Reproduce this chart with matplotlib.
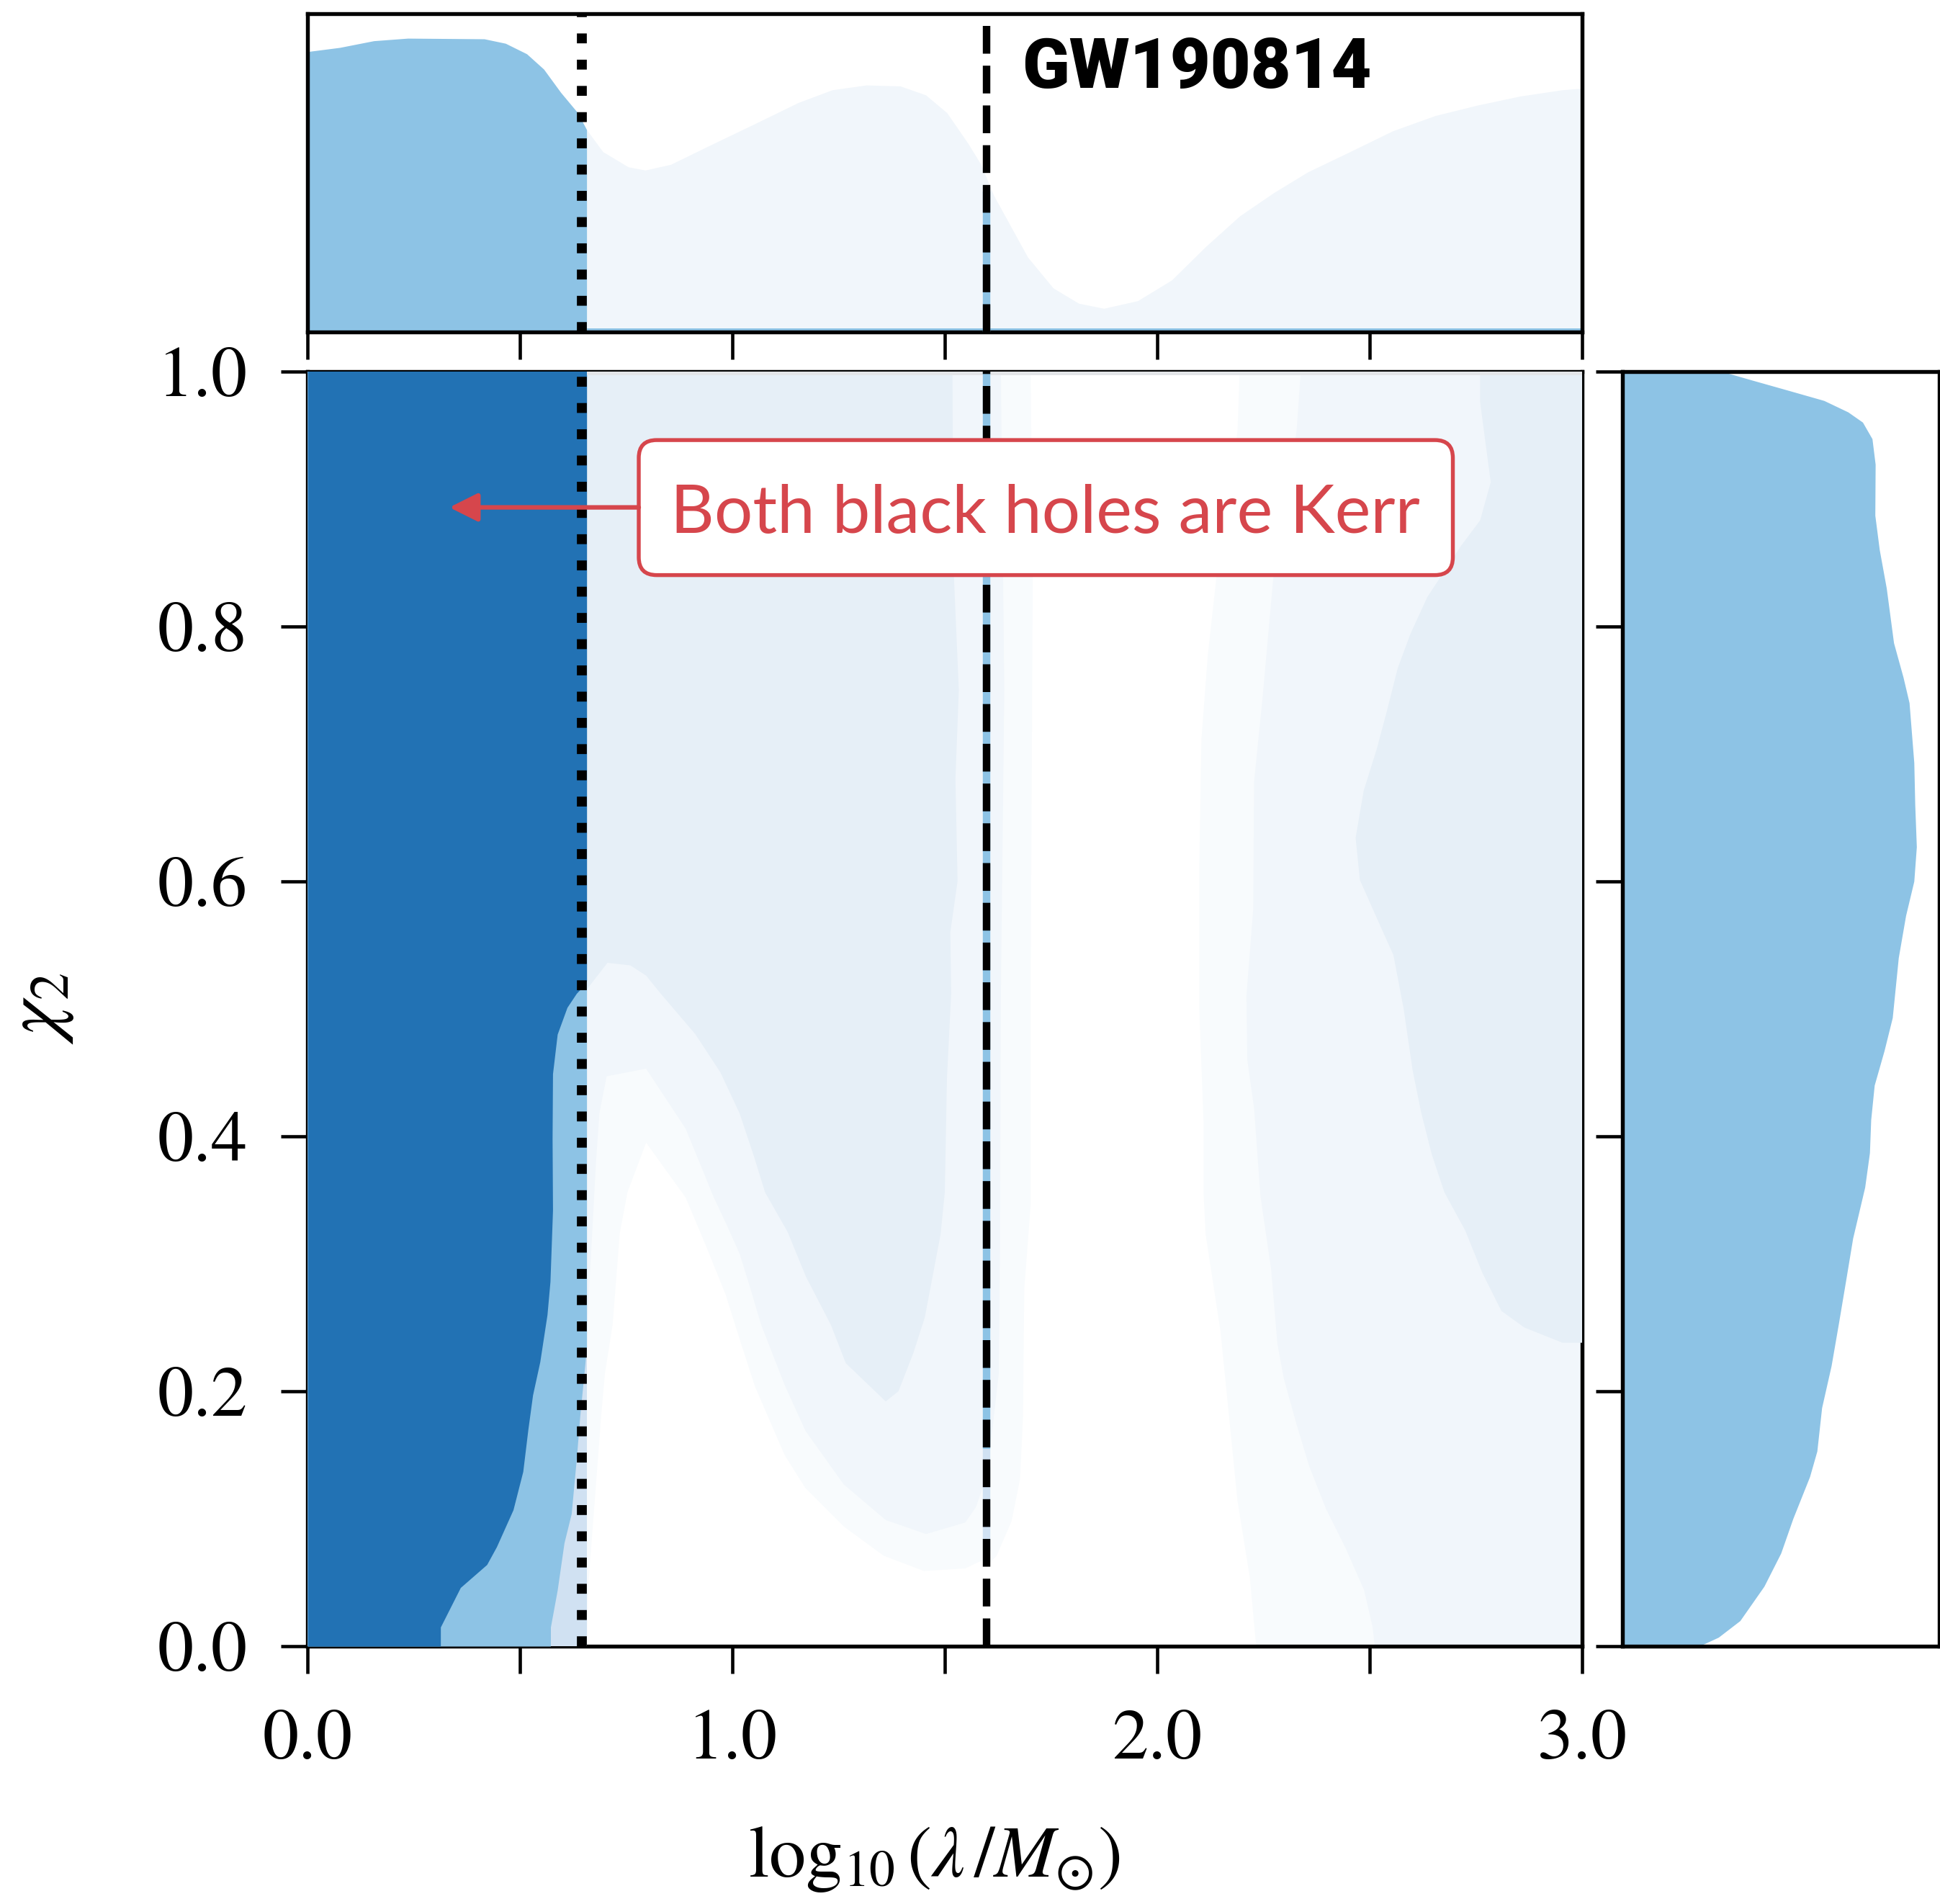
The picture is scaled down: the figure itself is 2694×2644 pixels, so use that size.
import numpy as np
import matplotlib
matplotlib.use("Agg")
import matplotlib.pyplot as plt
from matplotlib.patches import FancyBboxPatch

# ---------------- data ----------------
# cut-offs (log10 lambda / Msun)
kerr_cut = 0.645
second_cut = 1.598
region_edge = 0.657

# darkest credible region (right edge as function of chi2)
dark_edge_y = [0.0, 0.015, 0.046, 0.064, 0.078, 0.107, 0.137, 0.170, 0.197, 0.223, 0.260,
               0.286, 0.342, 0.398, 0.449, 0.480, 0.501, 0.512, 0.518, 0.522, 1.0]
dark_edge_x = [0.313, 0.313, 0.360, 0.422, 0.445, 0.484, 0.507, 0.519, 0.530, 0.547, 0.564,
               0.571, 0.577, 0.576, 0.577, 0.588, 0.611, 0.633, 0.650, 0.657, 0.657]
# medium region
mid_edge_y = [0.0, 0.015, 0.044, 0.081, 0.104, 0.147, 0.180, 0.214, 0.235, 1.0]
mid_edge_x = [0.572, 0.572, 0.588, 0.604, 0.621, 0.633, 0.641, 0.651, 0.657, 0.657]

# level-1 (faint blue) region, left part: lower edge then right edge
l1a_x = [0.657, 0.706, 0.760, 0.797, 0.831, 0.913, 0.972, 1.017, 1.051, 1.077, 1.130, 1.173,
         1.232, 1.267, 1.361, 1.391, 1.426, 1.453, 1.490, 1.500, 1.505, 1.515,
         1.513, 1.530, 1.525, 1.533, 1.520, 1.518]
l1a_y = [0.515, 0.536, 0.534, 0.526, 0.512, 0.480, 0.450, 0.418, 0.384, 0.356, 0.325, 0.290,
         0.252, 0.222, 0.192, 0.200, 0.230, 0.258, 0.323, 0.356, 0.445, 0.512,
         0.560, 0.600, 0.680, 0.750, 0.850, 1.000]
# level-1 region, right part (left edge from top to bottom)
l1b_x = [2.760, 2.760, 2.773, 2.785, 2.760, 2.715, 2.636, 2.596, 2.566, 2.541, 2.517, 2.486,
         2.467, 2.477, 2.517, 2.556, 2.580, 2.601, 2.621, 2.646, 2.676, 2.725, 2.765, 2.810,
         2.864, 2.954, 3.000]
l1b_y = [1.000, 0.976, 0.943, 0.913, 0.883, 0.863, 0.823, 0.794, 0.767, 0.734, 0.704, 0.671,
         0.634, 0.601, 0.571, 0.542, 0.500, 0.452, 0.419, 0.386, 0.356, 0.326, 0.293, 0.263,
         0.250, 0.238, 0.238]

# level-2 region, left part: lower edge (dotted -> dashed) then right strip upwards
l2a_x = [0.657, 0.659, 0.664, 0.670, 0.679, 0.687, 0.704, 0.797, 0.890, 0.927, 0.955, 0.986,
         1.017, 1.043, 1.068, 1.123, 1.172, 1.262, 1.361, 1.456, 1.548, 1.573, 1.590, 1.600,
         1.612, 1.627, 1.630, 1.632, 1.640, 1.632]
l2a_y = [0.240, 0.252, 0.286, 0.324, 0.380, 0.418, 0.447, 0.453, 0.406, 0.376, 0.353, 0.331,
         0.308, 0.280, 0.252, 0.205, 0.169, 0.127, 0.099, 0.088, 0.097, 0.109, 0.125, 0.140,
         0.170, 0.214, 0.313, 0.512, 0.750, 1.000]
# level-2 region, right part (left edge from top to bottom)
l2b_x = [2.338, 2.328, 2.273, 2.248, 2.228, 2.226, 2.210, 2.212, 2.228, 2.243, 2.268, 2.283,
         2.298, 2.328, 2.358, 2.397, 2.442, 2.487, 2.507, 2.512]
l2b_y = [1.000, 0.953, 0.837, 0.744, 0.678, 0.578, 0.510, 0.460, 0.422, 0.353, 0.296, 0.237,
         0.210, 0.174, 0.141, 0.108, 0.078, 0.044, 0.015, 0.000]

# white (lowest density) hole: upper/left edge then right edge downwards
white_x = [0.658, 0.661, 0.676, 0.691, 0.700, 0.718, 0.735, 0.753, 0.797, 0.890, 0.938, 0.984,
           1.018, 1.053, 1.123, 1.172, 1.262, 1.356, 1.451, 1.548, 1.592, 1.602, 1.622, 1.657,
           1.677, 1.684, 1.687, 1.702, 1.702, 1.707, 1.702,
           2.194, 2.189, 2.139, 2.119, 2.104, 2.099, 2.099, 2.109, 2.109, 2.114, 2.149, 2.174,
           2.189, 2.218, 2.233]
white_y = [0.000, 0.048, 0.114, 0.180, 0.214, 0.252, 0.324, 0.356, 0.395, 0.352, 0.314, 0.276,
           0.240, 0.204, 0.150, 0.124, 0.094, 0.071, 0.059, 0.061, 0.068, 0.064, 0.071, 0.098,
           0.131, 0.180, 0.280, 0.346, 0.512, 0.843, 1.000,
           1.000, 0.953, 0.837, 0.777, 0.711, 0.611, 0.500, 0.412, 0.356, 0.323, 0.247, 0.164,
           0.114, 0.054, 0.000]

# top marginal (log10 lambda)
top_x = [0.0, 0.006, 0.076, 0.156, 0.236, 0.416, 0.466, 0.516, 0.556, 0.596, 0.636, 0.657,
         0.695, 0.755, 0.795, 0.855, 0.955, 1.055, 1.155, 1.235, 1.315, 1.395, 1.455, 1.505,
         1.555, 1.585, 1.615, 1.655, 1.695, 1.755, 1.815, 1.874, 1.954, 2.034, 2.114, 2.194,
         2.274, 2.354, 2.454, 2.554, 2.654, 2.754, 2.853, 2.953, 3.0]
top_dens = [0.878, 0.881, 0.893, 0.914, 0.922, 0.920, 0.906, 0.873, 0.825, 0.752, 0.688, 0.635,
            0.566, 0.518, 0.508, 0.526, 0.591, 0.655, 0.720, 0.760, 0.775, 0.772, 0.744, 0.688,
            0.591, 0.526, 0.429, 0.332, 0.235, 0.138, 0.090, 0.074, 0.098, 0.163, 0.268, 0.364,
            0.437, 0.502, 0.566, 0.631, 0.679, 0.712, 0.740, 0.760, 0.765]

# right marginal (chi2)
right_y = [1.0, 0.993, 0.985, 0.977, 0.968, 0.960, 0.947, 0.927, 0.887, 0.860, 0.830, 0.787,
           0.760, 0.740, 0.693, 0.660, 0.627, 0.600, 0.573, 0.540, 0.493, 0.467, 0.440, 0.413,
           0.387, 0.360, 0.320, 0.287, 0.253, 0.220, 0.187, 0.153, 0.133, 0.100, 0.073, 0.047,
           0.020, 0.007, 0.0]
right_dens = [0.311, 0.409, 0.523, 0.636, 0.712, 0.758, 0.788, 0.798, 0.797, 0.811, 0.833, 0.856,
              0.886, 0.905, 0.920, 0.923, 0.928, 0.920, 0.894, 0.871, 0.852, 0.826, 0.795, 0.784,
              0.780, 0.765, 0.727, 0.705, 0.682, 0.659, 0.629, 0.614, 0.591, 0.538, 0.500, 0.447,
              0.371, 0.303, 0.242]

x_ticks = [0.0, 0.5, 1.0, 1.5, 2.0, 2.5, 3.0]
x_ticklabels = ["0.0", "", "1.0", "", "2.0", "", "3.0"]
y_ticks = [0.0, 0.2, 0.4, 0.6, 0.8, 1.0]
y_ticklabels = ["0.0", "0.2", "0.4", "0.6", "0.8", "1.0"]

event_name = "GW190814"
annotation_text = "Both black holes are Kerr"

# ---------------- style ----------------
C_DARK = "#2272b4"
C_MID = "#8dc3e5"
C_LIGHT = "#d0e1f2"
C_L1 = "#e6eff7"
C_L2 = "#f1f6fb"
C_L3 = "#f8fbfd"
C_RED = "#d6464c"

plt.rcParams["font.family"] = ["STIXGeneral", "DejaVu Sans"]
plt.rcParams["mathtext.fontset"] = "stix"
plt.rcParams["axes.linewidth"] = 1.3

W, H = 2695, 2644
fig = plt.figure(figsize=(W / 300, H / 300), dpi=300)

L, R = 427 / W, 2197 / W
ax = fig.add_axes([L, 1 - 2286 / H, R - L, (2286 - 515.5) / H])
axt = fig.add_axes([L, 1 - 461 / H, R - L, (461 - 18.6) / H])
axr = fig.add_axes([2253 / W, 1 - 2286 / H, (2693 - 2253) / W, (2286 - 515.5) / H])

# ---------------- main panel ----------------
ax.set_xlim(0, 3)
ax.set_ylim(0, 1)
ax.set_facecolor(C_L3)

ax.fill(white_x + [white_x[0]], white_y + [white_y[0]], color="white", lw=0, zorder=1)
ax.fill(l2a_x + [l2a_x[-1], region_edge], l2a_y + [1.0, 1.0], color=C_L2, lw=0, zorder=2)
ax.fill(l2b_x + [3.0, 3.0], l2b_y + [0.0, 1.0], color=C_L2, lw=0, zorder=2)
ax.fill(l1a_x + [region_edge], l1a_y + [1.0], color=C_L1, lw=0, zorder=3)
ax.fill(l1b_x + [3.0], l1b_y + [1.0], color=C_L1, lw=0, zorder=3)
ax.fill_betweenx([0, 1], 0, region_edge, color=C_LIGHT, lw=0, zorder=4)
ax.fill_betweenx(mid_edge_y, 0, mid_edge_x, color=C_MID, lw=0, zorder=5)
ax.fill_betweenx(dark_edge_y, 0, dark_edge_x, color=C_DARK, lw=0, zorder=6)
ax.axhspan(0.997, 1.0, xmin=region_edge / 3, xmax=1, color="#e3e5e8", lw=0, zorder=6)

# coloured trace under the dashed line
ax.vlines(second_cut, 0.155, 1.0, color=C_MID, lw=2.5, zorder=7)
ax.vlines(second_cut, 0.075, 0.155, color=C_LIGHT, lw=2.5, zorder=7)

ax.axvline(kerr_cut, color="black", ls=":", lw=3.3, zorder=8)
ax.axvline(second_cut, color="black", ls="--", lw=2.5, zorder=8)

ax.set_xticks(x_ticks)
ax.set_xticklabels(x_ticklabels)
ax.set_yticks(y_ticks)
ax.set_yticklabels(y_ticklabels)
ax.tick_params(axis="x", direction="out", length=9, width=1.1, pad=12, labelsize=24)
ax.tick_params(axis="y", direction="out", length=9, width=1.1, pad=11, labelsize=24)
ax.set_xlabel(r"$\log_{10}(\lambda\,/M_{\odot})$", fontsize=24.5)
ax.set_ylabel(r"$\chi_2$", fontsize=26)
ax.xaxis.set_label_coords(0.492, -0.140)
ax.yaxis.set_label_coords(-0.182, 0.5)

# annotation box
box = FancyBboxPatch((0.2599, 0.8401), 0.8986 - 0.2599, 0.9460 - 0.8401,
                     boxstyle="round,pad=0,rounding_size=0.014", transform=ax.transAxes,
                     fc="white", ec=C_RED, lw=1.3, zorder=10)
ax.add_patch(box)
ax.text(0.579, 0.8731, annotation_text, transform=ax.transAxes, ha="center", va="baseline",
        color=C_RED, fontsize=22.6, family=["Lato", "DejaVu Sans"], zorder=11)
ax.annotate("", xy=(0.1113, 0.8932), xytext=(0.2599, 0.8932),
            xycoords="axes fraction", textcoords="axes fraction",
            arrowprops=dict(arrowstyle="-|>,head_length=0.4,head_width=0.2", color=C_RED,
                            lw=1.5, shrinkA=0, shrinkB=0, mutation_scale=20), zorder=11)

# ---------------- top marginal ----------------
tx = np.array(top_x)
ty = np.array(top_dens)
axt.set_xlim(0, 3)
axt.set_ylim(0, 1)
axt.fill_between(tx, 0, ty, where=tx >= region_edge, color=C_L2, lw=0, zorder=1)
axt.fill_between(tx, 0, ty, where=tx <= region_edge, color=C_MID, lw=0, zorder=2)
axt.axhspan(0, 0.012, xmin=region_edge / 3, xmax=1, color=C_MID, lw=0, zorder=2)
axt.vlines(second_cut, 0, 0.44, color=C_MID, lw=2.5, zorder=3)
axt.axvline(kerr_cut, color="black", ls=":", lw=3.3, zorder=4)
axt.axvline(second_cut, color="black", ls="--", lw=2.5, zorder=4)
axt.set_xticks(x_ticks)
axt.set_xticklabels([])
axt.set_yticks([])
axt.tick_params(axis="x", direction="out", length=9, width=1.1)
axt.text(1.681, 0.826, event_name, ha="left", va="center", fontsize=23.2, fontweight="black",
         family=["Roboto", "DejaVu Sans"], zorder=5)

# ---------------- right marginal ----------------
axr.set_xlim(0, 1)
axr.set_ylim(0, 1)
axr.fill_betweenx(right_y, 0, right_dens, color=C_MID, lw=0)
axr.set_yticks(y_ticks)
axr.set_yticklabels([])
axr.set_xticks([])
axr.tick_params(axis="y", direction="out", length=9, width=1.1)

fig.savefig("out.png", dpi=300)
